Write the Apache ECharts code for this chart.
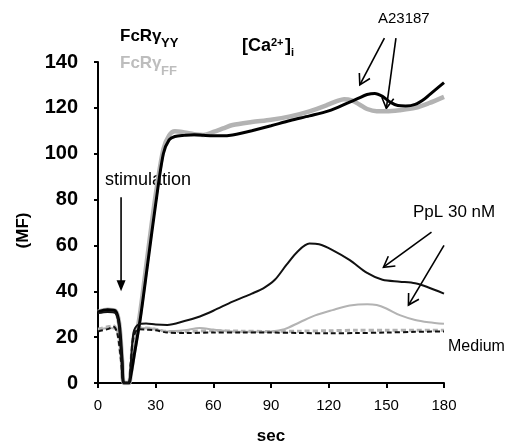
<!DOCTYPE html>
<html>
<head>
<meta charset="utf-8">
<script src="https://cdn.jsdelivr.net/npm/echarts@6/dist/echarts.min.js"></script>
<style>
    html, body { margin: 0; padding: 0; background: #fff; }
    #chart { width: 513px; height: 443px; }
</style>
</head>
<body>
<div id="chart"></div>
<script>
// time (sec) and MF values
const tA23YY = [0, 5, 9, 11, 12.5, 13.5, 16, 17, 19, 22, 26, 30, 34, 37, 40, 45, 50, 55, 60, 65, 70, 75, 80, 90, 100, 110, 120, 130, 135, 140, 144, 148, 152, 156, 160, 165, 170, 175, 180];
const vA23YY = [31, 32, 31.5, 26, 10, 0, 0, 3, 13, 28, 53, 78, 100, 106, 107.5, 108, 108.3, 108, 107.8, 107.8, 108.2, 109, 110, 112.2, 114.5, 116.5, 118.7, 122.2, 124, 125.8, 126.3, 125, 122.5, 121, 120.8, 121.5, 124, 127.5, 131];

const tA23FF = [0, 5, 9, 11, 12.5, 13.5, 16, 17, 19, 22, 26, 30, 34, 37, 40, 45, 50, 55, 60, 65, 70, 80, 90, 100, 110, 120, 125, 128, 132, 136, 140, 145, 150, 157, 165, 172, 180];
const vA23FF = [31, 32, 31.5, 26, 10, 0, 0, 4, 15, 31, 57, 82, 102, 108, 109.8, 109.3, 108.5, 108.2, 109.5, 111, 112.5, 113.8, 114.8, 116.3, 118.5, 121.5, 123.2, 123.8, 123.3, 121.5, 119.5, 118.5, 118.5, 119, 120, 122, 124.8];

const tPpLYY = [0, 5, 9, 11, 12.5, 13.5, 16, 17, 18.5, 21, 25, 30, 36, 45, 53, 60, 70, 80, 86, 92, 98, 104, 110, 115, 122, 131, 140, 148, 157, 165, 171, 180];
const vPpLYY = [30.5, 31, 30.5, 25, 10, 0, 0, 8, 22, 25.5, 26, 25.5, 25.3, 27, 29, 31.5, 35.5, 39, 41.3, 45, 51.5, 57.5, 60.8, 60.5, 58, 53.6, 48, 45, 44.2, 43.5, 42, 39];

const tPpLFF = [0, 5, 9, 11, 12.5, 13.5, 16, 17, 18.5, 21, 25, 30, 36, 45, 53, 60, 70, 80, 90, 97, 105, 113, 122, 131, 140, 145, 150, 157, 165, 172, 180];
const vPpLFF = [23, 24, 23.5, 20, 8, 0, 0, 6, 20, 23.5, 24, 23.5, 22.5, 23, 24, 23.3, 22.5, 22.3, 22.5, 23.5, 26.5, 29.5, 31.8, 33.8, 34.4, 34, 32.5, 29.6, 27.5, 26.5, 25.8];

const tMedYY = [0, 5, 8, 10, 12, 13.5, 16, 17, 18.5, 21, 25, 30, 36, 45, 60, 75, 90, 105, 120, 135, 150, 165, 180];
const vMedYY = [22.5, 23.5, 24.5, 22, 10, 0, 0, 8, 20, 23.5, 23.3, 23, 22, 21.8, 22, 22, 22, 21.8, 21.7, 21.8, 22, 22.3, 22.5];

const tMedFF = [0, 5, 8, 10, 12, 13.5, 16, 17, 18.5, 21, 25, 30, 36, 45, 60, 75, 90, 105, 120, 135, 150, 165, 180];
const vMedFF = [23.5, 24.5, 25, 22.5, 10, 0, 0, 8, 21, 24, 24, 23.5, 22.5, 22.5, 22.8, 22.6, 22.5, 22.6, 22.8, 23, 23, 23, 23];

// annotation arrows, [from, to] in data units
const arrowsOpen = [
    [[149, 150.4], [136.2, 130]],
    [[155, 150.4], [150, 119.8]],
    [[173.5, 65.8], [148.5, 50.5]],
    [[180, 60], [161.5, 34]]
];
const arrowStim = [[12, 81], [12, 40]];

const FONT = '"Liberation Sans", Arial, sans-serif';
const GREY = '#b3b3b3';

const pairs = (t, v) => t.map((x, i) => [x, v[i]]);

function line(name, t, v, color, width, type) {
    return {
        name: name,
        type: 'line',
        data: pairs(t, v),
        smooth: 0.3,
        showSymbol: false,
        silent: true,
        lineStyle: { color: color, width: width, type: type || 'solid' }
    };
}

const chart = echarts.init(document.getElementById('chart'));
chart.setOption({
    animation: false,
    grid: { left: 98, right: 69, top: 62, bottom: 60, containLabel: false, outerBoundsMode: 'none' },
    xAxis: {
        type: 'value',
        min: 0,
        max: 180,
        interval: 30,
        name: 'sec',
        nameLocation: 'middle',
        nameGap: 45,
        nameTextStyle: { color: '#000', fontFamily: FONT, fontWeight: 'bold', fontSize: 17 },
        axisLine: { show: true, lineStyle: { color: '#000', width: 2 } },
        axisTick: { show: true, length: 5, lineStyle: { color: '#000', width: 2 } },
        axisLabel: { color: '#000', fontFamily: FONT, fontSize: 15, margin: 15 },
        splitLine: { show: false }
    },
    yAxis: {
        type: 'value',
        min: 0,
        max: 140,
        interval: 20,
        name: '(MF)',
        nameLocation: 'middle',
        nameGap: 66,
        nameRotate: 90,
        nameTextStyle: { color: '#000', fontFamily: FONT, fontWeight: 'bold', fontSize: 17, padding: [0, 16, 0, 0] },
        axisLine: { show: true, lineStyle: { color: '#000', width: 2 } },
        axisTick: { show: true, length: 4, lineStyle: { color: '#000', width: 2 } },
        axisLabel: { color: '#000', fontFamily: FONT, fontWeight: 'bold', fontSize: 20, margin: 20 },
        splitLine: { show: false }
    },
    series: [
        line('Medium FF', tMedFF, vMedFF, GREY, 3, [5, 3]),
        line('PpL FF', tPpLFF, vPpLFF, GREY, 2),
        line('A23187 FF', tA23FF, vA23FF, GREY, 4.5),
        line('A23187 YY', tA23YY, vA23YY, '#000', 3),
        line('PpL YY', tPpLYY, vPpLYY, '#111', 2),
        line('Medium YY', tMedYY, vMedYY, '#111', 2, [5, 3])
    ]
});

const px = (p) => chart.convertToPixel({ gridIndex: 0 }, p);

function openArrow(a) {
    const s = px(a[0]), e = px(a[1]);
    const ang = Math.atan2(s[1] - e[1], s[0] - e[0]);
    const len = 12, spread = Math.PI / 6;
    const h1 = [e[0] + len * Math.cos(ang + spread), e[1] + len * Math.sin(ang + spread)];
    const h2 = [e[0] + len * Math.cos(ang - spread), e[1] + len * Math.sin(ang - spread)];
    const st = { stroke: '#000', lineWidth: 1.6, fill: null };
    return [
        { type: 'polyline', shape: { points: [s, e] }, style: st },
        { type: 'polyline', shape: { points: [h1, e, h2] }, style: st }
    ];
}

function stimArrow() {
    const s = px(arrowStim[0]), e = px(arrowStim[1]);
    return [
        { type: 'line', shape: { x1: s[0], y1: s[1], x2: e[0], y2: e[1] - 8 }, style: { stroke: '#000', lineWidth: 1.6 } },
        { type: 'polygon', shape: { points: [[e[0] - 4.5, e[1] - 11], [e[0] + 4.5, e[1] - 11], e] }, style: { fill: '#000' } }
    ];
}

function txt(x, y, text, size, weight, color) {
    return {
        type: 'text',
        x: x,
        y: y,
        style: {
            text: text,
            fill: color || '#000',
            font: (weight || 'normal') + ' ' + size + 'px ' + FONT,
            textAlign: 'left',
            textVerticalAlign: 'bottom'
        }
    };
}

let graphics = [];
arrowsOpen.forEach(a => { graphics = graphics.concat(openArrow(a)); });
graphics = graphics.concat(stimArrow());
graphics.push(
    txt(120, 45, 'FcRγ', 17, 'bold'),
    txt(161, 50, 'YY', 13, 'bold'),
    txt(120, 72, 'FcRγ', 17, 'bold', '#bdbdbd'),
    txt(161, 78, 'FF', 13, 'bold', '#bdbdbd'),
    txt(242, 55, '[Ca', 18, 'bold'),
    txt(271, 48, '2+', 11, 'bold'),
    txt(285, 55, ']', 18, 'bold'),
    txt(291, 58, 'i', 11, 'bold'),
    txt(378, 26, 'A23187', 15),
    txt(105, 189, 'stimulation', 18),
    txt(413, 221, 'PpL 30 nM', 17),
    txt(448, 355, 'Medium', 16)
);
chart.setOption({ graphic: graphics });
</script>
</body>
</html>
